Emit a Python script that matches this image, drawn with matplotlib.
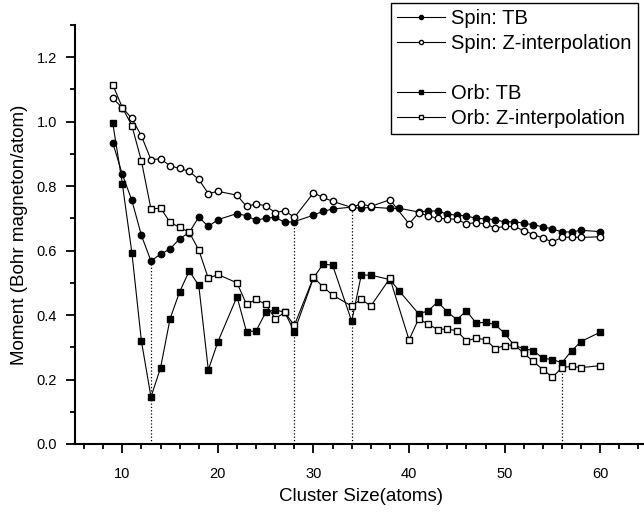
import numpy as np
import matplotlib
matplotlib.use('Agg')
import matplotlib.pyplot as plt
from matplotlib.ticker import MultipleLocator, FormatStrFormatter

plt.rcParams['font.family'] = ['Liberation Sans', 'DejaVu Sans']

# cluster sizes (TB runs and Z-interpolation runs have slightly different sets)
size_tb = [9, 10, 11, 12, 13, 14, 15, 16, 17, 18, 19, 20, 22, 23, 24, 25, 26, 27, 28,
           30, 31, 32, 34, 35, 36, 38, 39, 41, 42, 43, 44, 45, 46, 47, 48, 49, 50,
           51, 52, 53, 54, 55, 56, 57, 58, 60]
size_z = [9, 10, 11, 12, 13, 14, 15, 16, 17, 18, 19, 20, 22, 23, 24, 25, 26, 27, 28,
          30, 31, 32, 34, 35, 36, 38, 40, 41, 42, 43, 44, 45, 46, 47, 48, 49, 50,
          51, 52, 53, 54, 55, 56, 57, 58, 60]

spin_tb = [0.935, 0.837, 0.756, 0.647, 0.568, 0.589, 0.605, 0.637, 0.656, 0.704, 0.675, 0.696,
           0.715, 0.708, 0.694, 0.701, 0.703, 0.688, 0.690, 0.710, 0.722, 0.729, 0.735, 0.731,
           0.735, 0.731, 0.731, 0.720, 0.723, 0.723, 0.713, 0.710, 0.708, 0.700, 0.699, 0.696,
           0.689, 0.690, 0.685, 0.680, 0.674, 0.667, 0.658, 0.658, 0.663, 0.659]
spin_z = [1.072, 1.044, 1.010, 0.956, 0.882, 0.885, 0.863, 0.855, 0.846, 0.821, 0.777, 0.784,
          0.772, 0.737, 0.745, 0.739, 0.718, 0.724, 0.703, 0.779, 0.765, 0.753, 0.734, 0.745,
          0.737, 0.758, 0.683, 0.717, 0.708, 0.700, 0.699, 0.697, 0.683, 0.687, 0.683, 0.670,
          0.675, 0.675, 0.662, 0.650, 0.639, 0.627, 0.641, 0.642, 0.641, 0.643]
orb_tb = [0.996, 0.808, 0.594, 0.319, 0.146, 0.236, 0.389, 0.472, 0.537, 0.492, 0.230, 0.317,
          0.457, 0.348, 0.351, 0.408, 0.417, 0.408, 0.349, 0.515, 0.558, 0.555, 0.381, 0.524,
          0.524, 0.510, 0.474, 0.404, 0.413, 0.441, 0.410, 0.386, 0.413, 0.376, 0.377, 0.371,
          0.343, 0.306, 0.296, 0.290, 0.266, 0.262, 0.252, 0.289, 0.318, 0.347]
orb_z = [1.115, 1.044, 0.988, 0.878, 0.729, 0.732, 0.688, 0.672, 0.657, 0.602, 0.514, 0.526,
         0.500, 0.433, 0.449, 0.433, 0.389, 0.408, 0.368, 0.517, 0.488, 0.462, 0.428, 0.449,
         0.428, 0.514, 0.323, 0.388, 0.372, 0.355, 0.357, 0.351, 0.320, 0.328, 0.324, 0.296,
         0.305, 0.308, 0.282, 0.256, 0.231, 0.207, 0.237, 0.241, 0.237, 0.243]

# magic sizes marked with dotted drop lines
magic_spin = [13, 28, 34]
magic_orb = [56]

fig = plt.figure(figsize=(6.44, 5.14), dpi=100)
ax = fig.add_axes([0.1157, 0.1362, 0.8905, 0.8152])

for m in magic_spin:
    ax.plot([m, m], [0, spin_tb[size_tb.index(m)]], color='k', ls=':', lw=0.9, zorder=1)
for m in magic_orb:
    ax.plot([m, m], [0, orb_tb[size_tb.index(m)]], color='k', ls=':', lw=0.9, zorder=1)

ms = 4.6
l1, = ax.plot(size_tb, spin_tb, '-o', color='k', lw=0.8, ms=ms, mfc='k', zorder=3,
              label='Spin: TB')
l2, = ax.plot(size_z, spin_z, '-o', color='k', lw=0.8, ms=ms, mfc='white', zorder=4,
              label='Spin: Z-interpolation')
l3, = ax.plot(size_tb, orb_tb, '-s', color='k', lw=0.8, ms=ms, mfc='k', zorder=3,
              label='Orb: TB')
l4, = ax.plot(size_z, orb_z, '-s', color='k', lw=0.8, ms=ms, mfc='white', zorder=4,
              label='Orb: Z-interpolation')
blank, = ax.plot([], [], ls='none', label=' ')

ax.set_xlim(5, 65)
ax.set_ylim(0, 1.3001)
ax.xaxis.set_major_locator(MultipleLocator(10))
ax.xaxis.set_minor_locator(MultipleLocator(2))
ax.yaxis.set_major_locator(MultipleLocator(0.2))
ax.yaxis.set_minor_locator(MultipleLocator(0.1))
ax.yaxis.set_major_formatter(FormatStrFormatter('%.1f'))

for s in ['top', 'right']:
    ax.spines[s].set_visible(False)
for s in ['left', 'bottom']:
    ax.spines[s].set_linewidth(1.5)

ax.tick_params(axis='both', which='major', direction='out', length=6.5, width=1.3,
               labelsize=10.5)
ax.tick_params(axis='both', which='minor', direction='out', length=3.5, width=1.3)
ax.tick_params(axis='x', which='major', pad=10)
ax.tick_params(axis='y', which='major', pad=6)

ax.set_xlabel('Cluster Size(atoms)', fontsize=13.5, labelpad=5)
ax.set_ylabel('Moment (Bohr magneton/atom)', fontsize=13.5, labelpad=6)

leg = fig.legend([l1, l2, blank, l3, l4],
                 ['Spin: TB', 'Spin: Z-interpolation', ' ', 'Orb: TB', 'Orb: Z-interpolation'],
                 loc='upper right', bbox_to_anchor=(0.99, 0.995), fontsize=14.5,
                 frameon=True, fancybox=False, edgecolor='k', framealpha=1,
                 handlelength=2.4, handletextpad=0.3, labelspacing=0.3,
                 borderpad=0.3, markerscale=0.65, borderaxespad=0)
leg.get_frame().set_linewidth(1.0)

plt.savefig('out.png', dpi=100)
